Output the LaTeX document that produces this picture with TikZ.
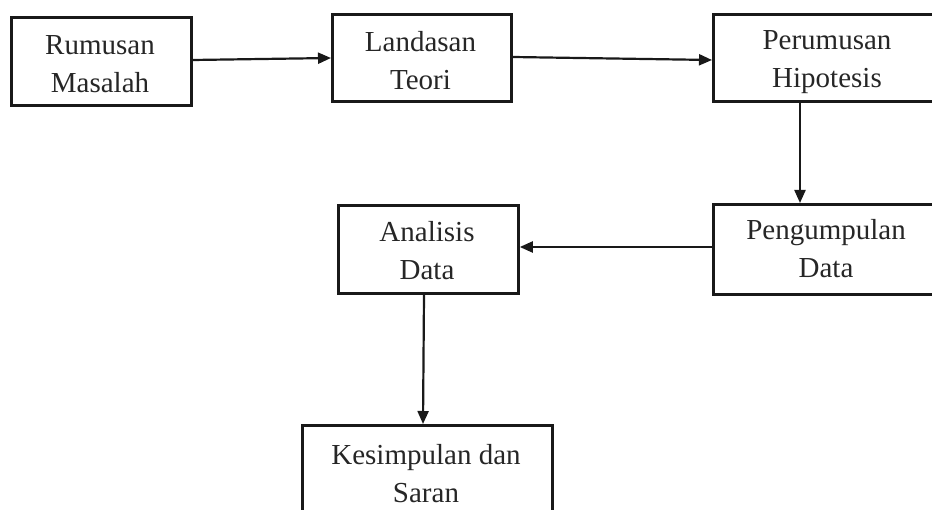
\documentclass[tikz,border=0pt]{standalone}
\usepackage{fontspec}
\setmainfont{Liberation Serif}
\usetikzlibrary{arrows.meta}
\begin{document}
\begin{tikzpicture}[x=1pt,y=-1pt,
  stepbox/.style={draw=black!90,line width=2.8pt,rectangle,inner sep=0pt,anchor=north west},
  lbl/.style={font=\fontsize{29}{38}\selectfont,align=center,anchor=base,inner sep=0pt,text=black!85},
  conn/.style={draw=black!90,line width=2.2pt,-{Triangle[length=13pt,width=11pt]}}]
\useasboundingbox (0,0) rectangle (932,510);
\clip (0,0) rectangle (932,510);
\node[stepbox,minimum width=180pt,minimum height=88pt] (b1) at (10,16) {};
\node[stepbox,minimum width=179pt,minimum height=87pt] (b2) at (331,13) {};
\node[stepbox,minimum width=230pt,minimum height=87pt] (b3) at (712,13) {};
\node[stepbox,minimum width=230pt,minimum height=90pt] (b4) at (712,203) {};
\node[stepbox,minimum width=180pt,minimum height=88pt] (b5) at (337,204) {};
\node[stepbox,minimum width=250pt,minimum height=100pt] (b6) at (301,424) {};
\node[lbl] (t1) at (100,93) {Rumusan\\Masalah};
\node[lbl] (t2) at (420.5,90) {Landasan\\Teori};
\node[lbl] (t3) at (827,88) {Perumusan\\Hipotesis};
\node[lbl] (t4) at (826,278) {Pengumpulan\\Data};
\node[lbl] (t5) at (427,280) {Analisis\\Data};
\node[lbl] (t6) at (426,502) {Kesimpulan dan\\Saran};
\draw[conn] (b1.east |- 0,60) -- (b2.west |- 0,58);
\draw[conn] (b2.east |- 0,57) -- (b3.west |- 0,60);
\draw[conn] (b3.south -| 800,0) -- (b4.north -| 800,0);
\draw[conn] (b4.west |- 0,247) -- (b5.east |- 0,247);
\draw[conn] (b5.south -| 424,0) -- (b6.north -| 423,0);
\end{tikzpicture}
\end{document}
